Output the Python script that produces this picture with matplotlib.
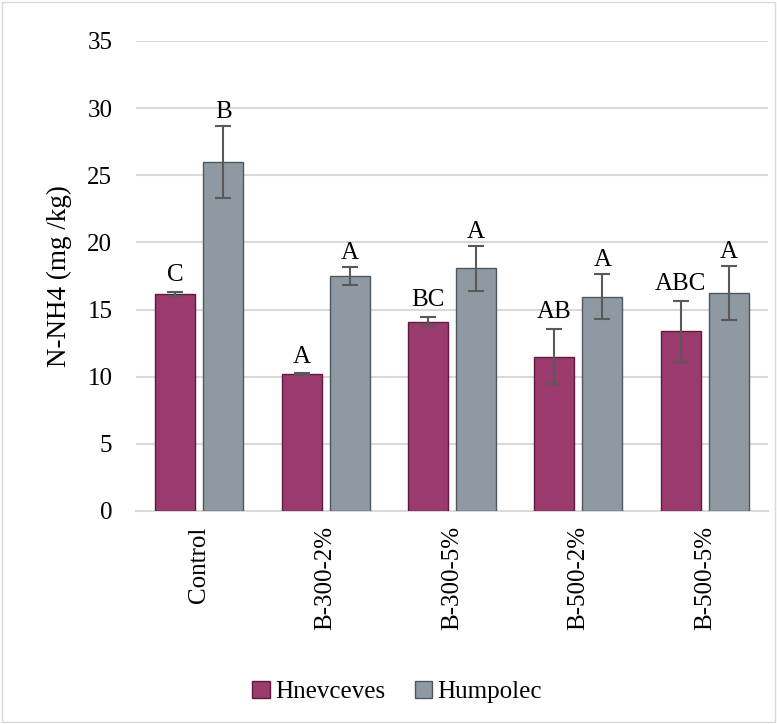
import numpy as np
import matplotlib.pyplot as plt
from matplotlib.patches import Rectangle

plt.rcParams['font.family'] = ['Liberation Serif', 'DejaVu Serif']

# data
categories = ['Control', 'B-300-2%', 'B-300-5%', 'B-500-2%', 'B-500-5%']
hnev_vals = [16.15, 10.2, 14.1, 11.5, 13.4]
hnev_err = [0.15, 0.05, 0.33, 2.05, 2.27]
hnev_letters = ['C', 'A', 'BC', 'AB', 'ABC']
hump_vals = [26.0, 17.5, 18.07, 15.97, 16.22]
hump_err = [2.7, 0.67, 1.67, 1.7, 2.03]
hump_letters = ['B', 'A', 'A', 'A', 'A']

fs = 18

fig = plt.figure(figsize=(7.77, 7.24), dpi=100)
fig.patches.append(Rectangle((0.003, 0.003), 0.994, 0.994, transform=fig.transFigure,
                             fill=False, edgecolor='#d9d9d9', linewidth=1))
ax = fig.add_axes([0.175, 0.2942, 0.8134, 0.6492])

x = np.arange(len(categories))
w = 0.316
off = 0.19
ekw = dict(ecolor='#595959', capsize=5.5, elinewidth=1.5, capthick=1.5, zorder=4)
b1 = ax.bar(x - off, hnev_vals, w, color='#9b3a6c', edgecolor='#5e1a3e', linewidth=1.0,
            yerr=hnev_err, error_kw=ekw, label='Hnevceves', zorder=3)
b2 = ax.bar(x + off, hump_vals, w, color='#8e99a2', edgecolor='#4f575e', linewidth=1.0,
            yerr=hump_err, error_kw=ekw, label='Humpolec', zorder=3)

for i in range(len(categories)):
    ax.text(x[i] - off, hnev_vals[i] + hnev_err[i] + 0.8, hnev_letters[i],
            ha='center', va='baseline', fontsize=fs)
    ax.text(x[i] + off, hump_vals[i] + hump_err[i] + 0.6, hump_letters[i],
            ha='center', va='baseline', fontsize=fs)

ax.set_ylim(0, 35)
ax.set_xlim(-0.5, len(categories) - 0.5)
ax.set_yticks(np.arange(0, 36, 5))
ax.tick_params(axis='y', labelsize=fs, length=0, pad=17)
ax.tick_params(axis='x', labelsize=fs, length=0, pad=11)
ax.set_xticks(x)
ax.set_xticklabels(categories, rotation=90)
ax.set_ylabel('N-NH4 (mg /kg)', fontsize=19.5, labelpad=11)
ax.grid(axis='y', color='#d9d9d9', linewidth=1.5, zorder=0)
ax.set_axisbelow(True)
for s in ['top', 'right', 'left']:
    ax.spines[s].set_visible(False)
ax.spines['bottom'].set_color('#d9d9d9')
ax.spines['bottom'].set_linewidth(1.5)

fig.legend(handles=[b1, b2], loc='center', bbox_to_anchor=(0.511, 0.044), ncol=2,
           frameon=False, prop={'family': ['Liberation Serif', 'DejaVu Serif'], 'size': fs},
           handlelength=0.7, handleheight=0.7, handletextpad=0.2, columnspacing=1.2)

fig.savefig('out.png', dpi=100)
